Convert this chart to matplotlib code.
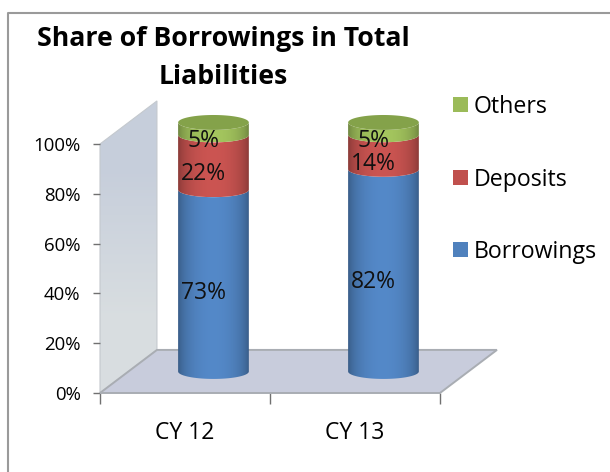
import matplotlib
matplotlib.use("Agg")
import matplotlib.pyplot as plt
from matplotlib.lines import Line2D
from matplotlib.patches import Polygon, Rectangle
import numpy as np

plt.rcParams['font.family'] = ['Open Sans', 'DejaVu Sans']

years = ['CY 12', 'CY 13']
series = ['Borrowings', 'Deposits', 'Others']
borrowings = [73, 82]
deposits = [22, 14]
others = [5, 5]
y_ticks = [0, 20, 40, 60, 80, 100]

colors = ['#4f81bd', '#c0504d', '#9bbb59']
W, H = 610, 472

# depth of the fake 3d box, in data units
depth_x = 0.335
depth_y = 17.3
half_w = 0.208
ell_h = 3.0


def clipped_image(ax, img, extent, poly, zorder):
    ax.add_patch(poly)
    im = ax.imshow(img, extent=extent, aspect='auto', zorder=zorder, interpolation='bilinear')
    # the shapes run past the axes box, so clip to the figure plus the polygon
    im.set_clip_box(fig.bbox)
    im.set_clip_path(poly)
    return im


def cylinder(ax, xc, y0, y1, color):
    t = np.linspace(np.pi, 2 * np.pi, 60)
    lower = np.column_stack([xc + half_w * np.cos(t), y0 + ell_h * np.sin(t)])
    upper = np.column_stack([xc + half_w * np.cos(t[::-1]), y1 + ell_h * np.sin(t[::-1])])
    poly = Polygon(np.vstack([lower, upper]), closed=True, fc='none', ec='none')
    # darker towards the edges so it reads as round
    s = np.linspace(-1, 1, 80)
    shade = 0.6 + 0.46 * np.sqrt(1 - 0.93 * s ** 2)
    rgb = np.array(matplotlib.colors.to_rgb(color))
    img = np.clip(shade[None, :, None] * rgb, 0, 1)
    clipped_image(ax, img, [xc - half_w, xc + half_w, y0 - ell_h, y1 + ell_h], poly, 3)


fig = plt.figure(figsize=(W / 100, H / 100), dpi=100)
# only the top and left edges of the chart frame are in view
fig.add_artist(Line2D([8 / W, 8 / W, 1], [0, 1 - 13 / H, 1 - 13 / H], color='#9a9a9a', lw=1.5,
                      transform=fig.transFigure))

ax = fig.add_axes([100 / W, 1 - 393 / H, 340 / W, 249 / H])
ax.patch.set_alpha(0)

# left wall, fading towards the floor
wall_pts = [(0, 0), (0, 100), (depth_x, 100 + depth_y), (depth_x, depth_y)]
wall_img = np.array([[[0.78, 0.81, 0.86]], [[0.85, 0.87, 0.88]]])
clipped_image(ax, wall_img, [0, depth_x, 0, 100 + depth_y],
              Polygon(wall_pts, closed=True, fc='none', ec='none'), 1)
ax.add_patch(Polygon(wall_pts, closed=True, fc='none', ec='#c4c9ce', lw=0.8, zorder=1.5, clip_on=False))

floor = Polygon([(0, 0), (depth_x, depth_y), (2 + depth_x, depth_y), (2, 0)], closed=True,
                fc='#c8ccdc', ec='#a9adb3', lw=1.4, zorder=2, clip_on=False)
ax.add_patch(floor)

for i, year in enumerate(years):
    vals = [borrowings[i], deposits[i], others[i]]
    total = sum(vals)
    xc = i + 0.5 + depth_x / 2
    base = depth_y / 2
    bottom = 0
    for v, c in zip(vals, colors):
        share = v * 100 / total
        cylinder(ax, xc, base + bottom, base + bottom + share, c)
        ax.text(xc - 0.06, base + bottom + share / 2 - 4.8, '%d%%' % v, ha='center', va='center',
                fontsize=16.5, color='#111111', zorder=5)
        bottom += share
    # cap of the stack
    t = np.linspace(0, 2 * np.pi, 80)
    cap = Polygon(np.column_stack([xc + half_w * np.cos(t), base + 100 + ell_h * np.sin(t)]),
                  closed=True, fc='#84a24a', ec='none', zorder=4, clip_on=False)
    ax.add_patch(cap)

ax.set_xlim(0, 2)
ax.set_ylim(0, 100)
ax.set_xticks([0, 1, 2])
ax.set_xticklabels([])
ax.set_xticks([0.5, 1.5], labels=years, minor=True)
ax.set_yticks(y_ticks)
ax.set_yticklabels(['%d%%' % v for v in y_ticks])
ax.tick_params(axis='y', labelsize=13.4, length=5, color='#707070', width=1, pad=9)
ax.tick_params(axis='x', which='major', length=8, color='#707070', width=1)
ax.tick_params(axis='x', which='minor', length=0, labelsize=16.5, pad=20)
for name in ['top', 'right', 'bottom', 'left']:
    ax.spines[name].set_visible(False)

fig.text(223 / W, 1 - 58 / H, 'Share of Borrowings in Total\nLiabilities', ha='center', va='center',
         fontsize=19.2, fontweight='bold', linespacing=1.65, color='black')

# legend drawn by hand so the spacing stays wide
for name, c, py in zip(['Others', 'Deposits', 'Borrowings'], colors[::-1], [105, 178, 250]):
    fig.add_artist(Rectangle((453 / W, 1 - (py + 7) / H), 15 / W, 15 / H, fc=c, ec='none',
                             transform=fig.transFigure))
    fig.text(474 / W, 1 - (py + 2) / H, name, ha='left', va='center', fontsize=16.7, color='black')

fig.savefig('out.png', dpi=100)
